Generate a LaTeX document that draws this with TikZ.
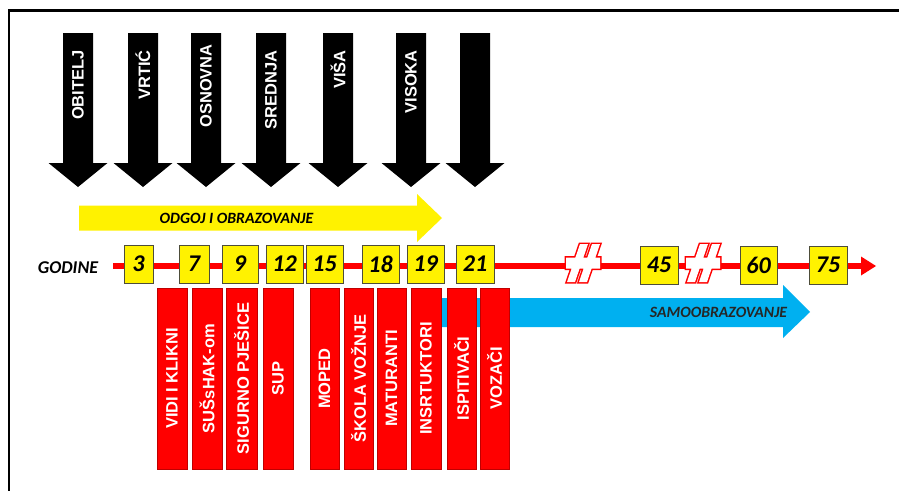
\documentclass[tikz,border=0pt]{standalone}
\usepackage{fontspec}
\setmainfont{Liberation Sans}
\newfontfamily\calib{Carlito}
\newfontfamily\wfont{Liberation Sans}
\definecolor{skyblue}{HTML}{00B0F0}
\definecolor{boxedge}{HTML}{4D4D3A}
\tikzset{
  wtext/.style={text=white, font=\wfont\bfseries\fontsize{16.5}{16.5}\selectfont, rotate=90, inner sep=0pt},
  numbox/.style={draw=boxedge, fill=yellow, line width=0.8pt, minimum height=38pt, inner sep=0pt,
     font=\calib\bfseries\itshape\fontsize{24}{24}\selectfont},
  redbox/.style={draw=red!75!black, fill=red, line width=0.6pt, minimum height=181pt, inner sep=0pt},
  itlabel/.style={inner sep=0pt, font=\calib\bfseries\itshape\fontsize{15.7}{15.7}\selectfont},
  brk/.pic={
    \path[fill=white, draw=red, line width=3pt, line join=miter]
        (-17,-5.5) rectangle (17,5.5)
        (-16,19) -- (-8,19) -- (5,-19) -- (-3,-19) -- cycle
        (-4,19) -- (4,19) -- (17,-19) -- (9,-19) -- cycle;
    \path[fill=white] (-17,-5.5) rectangle (17,5.5)
        (-16,19) -- (-8,19) -- (5,-19) -- (-3,-19) -- cycle
        (-4,19) -- (4,19) -- (17,-19) -- (9,-19) -- cycle;
  }
}
\newcommand{\blackdown}[1]{%
  \fill[black] (#1-15,33) -- (#1+15,33) -- (#1+15,163) -- (#1+29.5,163) -- (#1,187)
     -- (#1-29.5,163) -- (#1-15,163) -- cycle;}
\begin{document}
\begin{tikzpicture}[x=1pt,y=-1pt]
\useasboundingbox (0,0) rectangle (899,490);
\fill[white] (0,0) rectangle (899,490);
% frame
\draw[line width=2.5pt] (9,495) -- (9,10.5) -- (904,10.5);
% black arrows
\foreach \cx in {78,143,206,271,338,411,475}{\blackdown{\cx}}
\node[wtext, anchor=east] (obitelj) at (78,50) {OBITELJ};
\node[wtext, anchor=east] (vrtic) at (143,50) {VRTIĆ};
\node[wtext, anchor=east] (osnovna) at (206,44) {OSNOVNA};
\node[wtext, anchor=east] (srednja) at (271,50) {SREDNJA};
\node[wtext, anchor=east] (visa) at (338,50) {VIŠA};
\node[wtext, anchor=east] (visoka) at (411,50) {VISOKA};
% yellow arrow
\fill[yellow] (79,205.5) -- (417,205.5) -- (417,194) -- (442,218) -- (417,242) -- (417,230.5) -- (79,230.5) -- cycle;
\node[itlabel] (odgoj) at (236.5,218) {ODGOJ I OBRAZOVANJE};
% timeline
\coordinate (tl0) at (113,266);
\coordinate (tlh) at (861,266);
\coordinate (tl1) at (876,266);
\draw[red, line width=6pt] (tl0) -- (tlh);
\fill[red] ([yshift=-9.5pt]tlh) -- (tl1) -- ([yshift=9.5pt]tlh) -- cycle;
\node[itlabel, font=\calib\bfseries\itshape\fontsize{18}{18}\selectfont] (godine) at (68,268) {GODINE};
\pic at (583,263) {brk};
\pic at (703,263) {brk};
% year boxes
\node[numbox, minimum width=29pt] (y3) at (138.5,264) {3};
\node[numbox, minimum width=30pt] (y7) at (194,264) {7};
\node[numbox, minimum width=36pt] (y9) at (240,264) {9};
\node[numbox, minimum width=37pt] (y12) at (284.5,264) {12};
\node[numbox, minimum width=37pt] (y15) at (324.5,264) {15};
\node[numbox, minimum width=37pt] (y18) at (380.5,264) {18};
\node[numbox, minimum width=37pt] (y19) at (425.5,264) {19};
\node[numbox, minimum width=38pt] (y21) at (475,264) {21};
\node[numbox, minimum width=38pt] (y45) at (659,265) {45};
\node[numbox, minimum width=37pt] (y60) at (758.5,265) {60};
\node[numbox, minimum width=38pt] (y75) at (828,265) {75};
% blue arrow
\fill[skyblue] (441,298) -- (783,298) -- (783,285) -- (810,312) -- (783,338) -- (783,327) -- (441,327) -- cycle;
\node[itlabel, text=black!85] (samo) at (718.5,312) {SAMOOBRAZOVANJE};
% red boxes
\foreach \n/\cx/\w/\t in {1/172/30/VIDI I KLIKNI, 2/207/30/SUŠsHAK-om, 3/241.5/31/SIGURNO PJEŠICE,
  4/278/30/SUP, 5/324.5/29/MOPED, 6/358.5/29/ŠKOLA VOŽNJE, 7/391.5/29/MATURANTI,
  8/426/30/INSRTUKTORI, 9/461.5/29/ISPITIVAČI, 10/494.5/29/VOZAČI}{
  \node[redbox, minimum width=\w pt] (r\n) at (\cx,378.5) {};
  \node[wtext] (rt\n) at (r\n.center) {\t};
}
\end{tikzpicture}
\end{document}
